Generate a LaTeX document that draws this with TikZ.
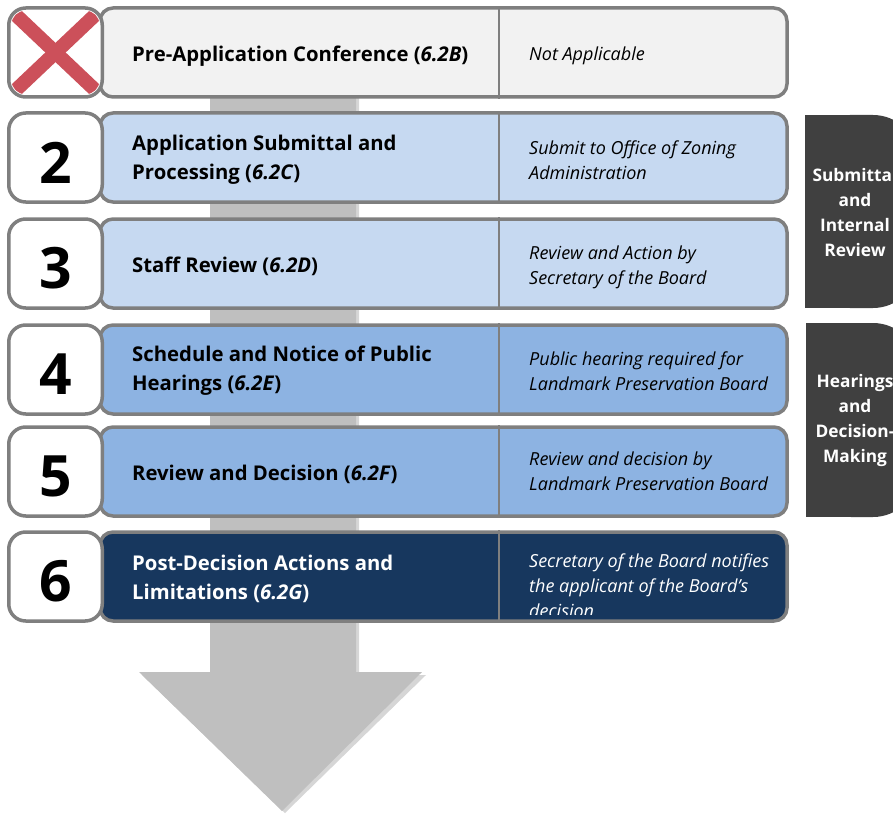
\documentclass[tikz,border=0pt]{standalone}
\usepackage{fontspec}
\setmainfont{Open Sans}
\definecolor{rimgray}{HTML}{7F7F7F}
\definecolor{palegray}{HTML}{F2F2F2}
\definecolor{paleblue}{HTML}{C6D9F1}
\definecolor{midblue}{HTML}{8DB3E2}
\definecolor{navy}{HTML}{17375E}
\definecolor{shaftgray}{HTML}{BFBFBF}
\definecolor{shadegray}{HTML}{D6D6D6}
\definecolor{sidegray}{HTML}{404040}
\definecolor{crossred}{HTML}{CC505A}

\tikzset{
  stepbox/.style={draw=rimgray, line width=3.5pt, rounded corners=13pt,
    minimum width=687pt, minimum height=89pt},
  numbox/.style={draw=rimgray, fill=white, line width=3.5pt, rounded corners=17pt,
    minimum width=93.5pt, minimum height=89pt},
  stepnum/.style={inner sep=0pt, font=\bfseries\fontsize{57}{57}\selectfont},
  steptitle/.style={anchor=west, align=left, inner sep=0pt,
    font=\bfseries\fontsize{20.3}{29}\selectfont},
  stepnote/.style={anchor=west, align=left, inner sep=0pt,
    font=\itshape\fontsize{18}{25}\selectfont},
  divider/.style={draw=rimgray, line width=2.5pt},
  sidelabel/.style={align=center, text=white, inner sep=0pt,
    font=\bfseries\fontsize{17.3}{25}\selectfont},
}

\begin{document}
\begin{tikzpicture}[x=1pt, y=-1pt]
  \useasboundingbox (0,0) rectangle (893,813);

  % big arrow behind the steps
  \fill[shadegray] (213,92) -- (359,92) -- (359,675) -- (426,675) -- (285,813) -- (142,675) -- (213,675) -- cycle;
  \fill[shaftgray] (210,90) -- (356,90) -- (356,672) -- (422,672) -- (282,811) -- (139,672) -- (210,672) -- cycle;

  \coordinate (div) at (499,0);

  % step 1
  \node[stepbox, fill=palegray] (s1) at (443.5,52.5) {};
  \node[numbox] (n1) at (55.5,52.5) {};
  \begin{scope}
    \clip[rounded corners=14pt] ([shift={(4.5,4.5)}]n1.north west) rectangle ([shift={(-4.5,-4.5)}]n1.south east);
    \draw[crossred, line width=14pt] ([shift={(6,6)}]n1.north west) -- ([shift={(-6,-6)}]n1.south east);
    \draw[crossred, line width=14pt] ([shift={(-6,6)}]n1.north east) -- ([shift={(6,-6)}]n1.south west);
  \end{scope}
  \draw[divider] (s1.north -| div) -- (s1.south -| div);
  \node[steptitle] (t1) at (132,56) {Pre-Application Conference (\textit{6.2B})};
  \node[stepnote] (d1) at (529,56) {Not Applicable};

  % step 2
  \node[stepbox, fill=paleblue] (s2) at (443.5,157.5) {};
  \node[numbox] (n2) at (55.5,157.5) {};
  \node[stepnum] (k2) at ([yshift=-5pt]n2.center) {2};
  \draw[divider] (s2.north -| div) -- (s2.south -| div);
  \node[steptitle] (t2) at (132,160) {Application Submittal and\\Processing (\textit{6.2C})};
  \node[stepnote] (d2) at (529,160) {Submit to Office of Zoning\\Administration};

  % step 3
  \node[stepbox, fill=paleblue] (s3) at (443.5,263.5) {};
  \node[numbox] (n3) at (55.5,263.5) {};
  \node[stepnum] (k3) at ([yshift=-5pt]n3.center) {3};
  \draw[divider] (s3.north -| div) -- (s3.south -| div);
  \node[steptitle] (t3) at (132,266) {Staff Review (\textit{6.2D})};
  \node[stepnote] (d3) at (529,267) {Review and Action by\\Secretary of the Board};

  % step 4
  \node[stepbox, fill=midblue] (s4) at (443.5,369.5) {};
  \node[numbox] (n4) at (55.5,369.5) {};
  \node[stepnum] (k4) at ([yshift=-5pt]n4.center) {4};
  \draw[divider] (s4.north -| div) -- (s4.south -| div);
  \node[steptitle] (t4) at (132,371) {Schedule and Notice of Public\\Hearings (\textit{6.2E})};
  \node[stepnote] (d4) at (529,371) {Public hearing required for\\Landmark Preservation Board};

  % step 5
  \node[stepbox, fill=midblue] (s5) at (443.5,471.5) {};
  \node[numbox] (n5) at (55.5,471.5) {};
  \node[stepnum] (k5) at ([yshift=-5pt]n5.center) {5};
  \draw[divider] (s5.north -| div) -- (s5.south -| div);
  \node[steptitle] (t5) at (132,474) {Review and Decision (\textit{6.2F})};
  \node[stepnote] (d5) at (529,471) {Review and decision by\\Landmark Preservation Board};

  % step 6
  \node[stepbox, fill=navy] (s6) at (443.5,576.5) {};
  \node[numbox] (n6) at (55.5,576.5) {};
  \node[stepnum] (k6) at ([yshift=-5pt]n6.center) {6};
  \draw[divider] (s6.north -| div) -- (s6.south -| div);
  \node[steptitle, text=white] (t6) at (132,579) {Post-Decision Actions and\\Limitations (\textit{6.2G})};
  \begin{scope}
    \clip (501,533) rectangle (785,614);
    \node[stepnote, text=white, anchor=north west] (d6) at (529,554) {Secretary of the Board notifies\\the applicant of the Board’s\\decision};
  \end{scope}

  % phase labels
  \fill[sidegray, rounded corners=45pt] (805,115) rectangle (918,308);
  \fill[sidegray] (805,115) rectangle (860,308);
  \node[sidelabel] (g1) at (855,213) {Submittal\\and\\Internal\\Review};
  \fill[sidegray, rounded corners=45pt] (806,323) rectangle (918,517);
  \fill[sidegray] (806,323) rectangle (860,517);
  \node[sidelabel] (g2) at (855,421) {Hearings\\and\\Decision-\\Making};
\end{tikzpicture}
\end{document}
